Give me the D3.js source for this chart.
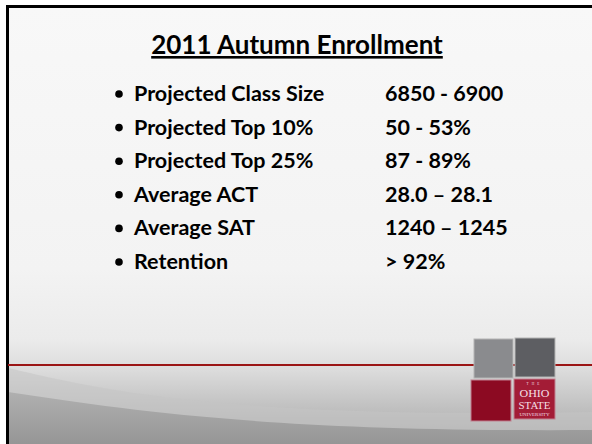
<!DOCTYPE html>
<html><head><meta charset="utf-8">
<script src="https://cdn.jsdelivr.net/npm/d3@7"></script>
<style>html,body{margin:0;padding:0;background:#fff;overflow:hidden}</style>
</head><body>
<script>
const title = "2011 Autumn Enrollment";
const labels = ["Projected Class Size","Projected Top 10%","Projected Top 25%","Average ACT","Average SAT","Retention"];
const values = ["6850 - 6900","50 - 53%","87 - 89%","28.0 \u2013 28.1","1240 \u2013 1245","> 92%"];

const W = 592, H = 444;
const svg = d3.select("body").append("svg").attr("width", W).attr("height", H);
const defs = svg.append("defs");
const g1 = defs.append("linearGradient").attr("id","bg").attr("x1",0).attr("y1",0).attr("x2",0).attr("y2",1);
[["0","#f8f8f8"],["0.6","#f3f3f3"],["0.76","#ebebeb"],["0.83","#dcdcdc"],["1","#a6a6a6"]]
  .forEach(([o,c]) => g1.append("stop").attr("offset",o).attr("stop-color",c));
const g2 = defs.append("linearGradient").attr("id","sw").attr("x1",0).attr("y1",0).attr("x2",0).attr("y2",1);
g2.append("stop").attr("offset","0").attr("stop-color","#b0b0b0");
g2.append("stop").attr("offset","1").attr("stop-color","#969696");

// slide background
svg.append("rect").attr("x",8).attr("y",6).attr("width",W-8).attr("height",H-6).attr("fill","url(#bg)");
// swoosh bands
svg.append("path").attr("d","M8,368 C110,392 230,418 592,412 L592,444 L8,444 Z").attr("fill","#c4c4c4").attr("opacity",0.55);
svg.append("path").attr("d","M8,392 C140,412 280,432 592,430 L592,444 L8,444 Z").attr("fill","url(#sw)");
// borders
svg.append("rect").attr("x",6).attr("y",5).attr("width",W-6).attr("height",3).attr("fill","#000");
svg.append("rect").attr("x",6).attr("y",5).attr("width",3).attr("height",H-5).attr("fill","#000");
// red line
svg.append("rect").attr("x",8).attr("y",364).attr("width",W-8).attr("height",2).attr("fill","#9b1515");

// title
const font = "Lato, 'Open Sans', sans-serif";
svg.append("text").attr("x",297).attr("y",54).attr("text-anchor","middle")
  .attr("font-family",font).attr("font-weight","bold").attr("font-size",26)
  .attr("text-decoration","underline").attr("fill","#000").text(title);

const y = d3.scalePoint().domain(labels).range([101, 269]);
const rows = svg.append("g").selectAll("g").data(labels).join("g")
  .attr("transform", d => `translate(0,${y(d)})`);
rows.append("circle").attr("cx",119).attr("cy",-7).attr("r",3.8).attr("fill","#000");
rows.append("text").attr("x",134).attr("font-family",font).attr("font-weight","bold")
  .attr("font-size",21.5).attr("fill","#000").text(d => d);
rows.append("text").attr("x",385).attr("font-family",font).attr("font-weight","bold")
  .attr("font-size",21.5).attr("fill","#000").text((d,i) => values[i]);

// logo
const logo = svg.append("g");
logo.append("rect").attr("x",474).attr("y",339).attr("width",39).attr("height",39).attr("fill","#8a8b8e").attr("stroke","#b4b4b4").attr("stroke-width",1);
logo.append("rect").attr("x",515).attr("y",338).attr("width",40).attr("height",39).attr("fill","#5d5e62").attr("stroke","#b4b4b4").attr("stroke-width",1);
logo.append("rect").attr("x",471).attr("y",380).attr("width",40).attr("height",41).attr("fill","#8c0a22").attr("stroke","#c08090").attr("stroke-width",1);
logo.append("rect").attr("x",514).attr("y",379).attr("width",41).attr("height",40).attr("fill","#a31c36").attr("stroke","#c08090").attr("stroke-width",1);
const lt = logo.append("g").attr("fill","#f3dfe3").attr("font-family","'Liberation Sans Narrow', 'Liberation Serif', serif").attr("text-anchor","middle");
lt.append("text").attr("x",534.5).attr("y",385).attr("font-size",3.5).attr("letter-spacing",3).text("THE");
lt.append("text").attr("x",534.5).attr("y",397).attr("font-size",10.5).attr("textLength",30).attr("lengthAdjust","spacingAndGlyphs").text("OHIO");
lt.append("text").attr("x",534.5).attr("y",409).attr("font-size",10.5).attr("textLength",32).attr("lengthAdjust","spacingAndGlyphs").text("STATE");
lt.append("text").attr("x",534.5).attr("y",415.5).attr("font-size",3.5).attr("textLength",30).attr("lengthAdjust","spacingAndGlyphs").text("UNIVERSITY");
</script>
</body></html>
